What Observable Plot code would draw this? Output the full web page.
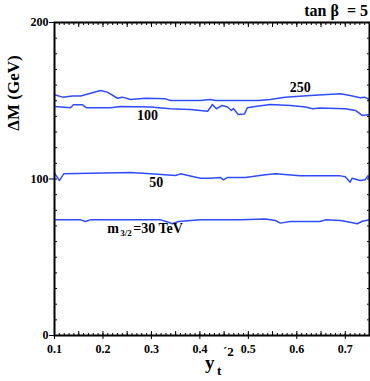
<!DOCTYPE html>
<html>
<head>
<meta charset="utf-8">
<script src="https://cdn.jsdelivr.net/npm/d3@7"></script>
<script src="https://cdn.jsdelivr.net/npm/@observablehq/plot@0.6"></script>
<style>
  html, body { margin: 0; padding: 0; background: #fff; }
  svg { display: block; }
  svg, svg text { font-family: "Liberation Serif", "Times New Roman", "DejaVu Serif", serif !important; font-weight: bold; }
</style>
</head>
<body>
<div id="chart"></div>
<script>
// Curves: [x = y_t'^2, y = ΔM (GeV)]
const series250 = [[0.100,153.8],[0.117,152.3],[0.137,153.0],[0.154,153.0],[0.195,156.5],[0.209,155.5],[0.230,151.6],[0.240,152.3],[0.257,150.8],[0.288,151.6],[0.329,151.2],[0.339,150.2],[0.401,150.2],[0.422,150.8],[0.432,150.2],[0.521,150.2],[0.545,150.8],[0.576,152.3],[0.628,153.4],[0.690,154.4],[0.710,153.4],[0.731,151.9],[0.739,152.3],[0.750,150.8]];
const series100 = [[0.100,146.3],[0.133,145.5],[0.139,147.4],[0.158,147.4],[0.166,145.5],[0.216,145.5],[0.236,146.3],[0.298,146.0],[0.339,144.9],[0.380,144.4],[0.416,143.3],[0.426,147.6],[0.434,144.9],[0.446,147.0],[0.457,146.0],[0.465,143.8],[0.469,145.0],[0.479,141.2],[0.492,141.6],[0.498,145.5],[0.514,146.3],[0.545,147.6],[0.587,147.0],[0.618,146.0],[0.632,144.9],[0.648,145.3],[0.700,144.9],[0.721,143.8],[0.735,140.6],[0.750,141.2]];
const series50 = [[0.100,103.7],[0.106,101.0],[0.110,99.0],[0.119,103.3],[0.174,103.7],[0.257,104.1],[0.298,103.3],[0.350,102.2],[0.360,103.3],[0.401,100.5],[0.422,100.5],[0.442,101.0],[0.449,99.5],[0.457,101.0],[0.494,101.0],[0.535,102.7],[0.556,103.3],[0.607,102.0],[0.690,102.0],[0.700,101.5],[0.710,98.0],[0.714,100.5],[0.731,99.0],[0.741,99.5],[0.747,102.2],[0.750,100.5]];
const series30 = [[0.100,73.9],[0.154,73.9],[0.164,72.8],[0.174,73.9],[0.319,73.9],[0.335,72.4],[0.343,71.4],[0.356,72.8],[0.401,73.9],[0.484,73.9],[0.535,74.5],[0.556,73.5],[0.566,71.8],[0.587,72.8],[0.648,72.8],[0.659,73.9],[0.690,73.5],[0.710,72.4],[0.725,71.4],[0.735,73.0],[0.750,73.9]];

// Curve labels
const labelTexts = ["250", "100", "50"];
const labelXs = [0.607, 0.292, 0.310];
const labelYs = [155.3, 137.4, 94.8];
const m32Pos = [0.209, 65.2];

// Ticks
const xTickLabels = [0.1, 0.2, 0.3, 0.4, 0.5, 0.6, 0.7];
const xMajorTicks = d3.range(10, 76, 5).map(d => d / 100);
const xMinorTicks = d3.range(10, 76, 1).map(d => d / 100);
const yTickLabels = [0, 100, 200];
const yMinorTicks = d3.range(0, 201, 10);

const curves = [series250, series100, series50, series30];
const blue = "#2f4dff";
const serif = "'Liberation Serif', 'Times New Roman', serif";

const noText = () => "";
const plot = Plot.plot({
  width: 370,
  height: 381,
  marginLeft: 54,
  marginRight: 1,
  marginTop: 22,
  marginBottom: 46,
  style: {fontFamily: serif, fontWeight: "bold", fontSize: "12px", color: "#000", background: "#fff"},
  x: {domain: [0.1, 0.75]},
  y: {domain: [0, 200]},
  marks: [
    ...curves.map(s => Plot.line(s, {x: d => d[0], y: d => d[1], stroke: blue, strokeWidth: 1.5, curve: "linear"})),
    Plot.text(labelTexts, {x: (d, i) => labelXs[i], y: (d, i) => labelYs[i], text: d => d, fontSize: 14, fontWeight: "bold", textAnchor: "middle", lineAnchor: "bottom"}),
    Plot.text(["m"], {x: () => m32Pos[0], y: () => m32Pos[1], text: d => d, fontSize: 14, textAnchor: "start", lineAnchor: "bottom"}),
    Plot.text(["3/2"], {x: () => m32Pos[0], y: () => m32Pos[1], text: d => d, fontSize: 9, dx: 13, dy: 3, textAnchor: "start", lineAnchor: "bottom"}),
    Plot.text(["=30 TeV"], {x: () => m32Pos[0], y: () => m32Pos[1], text: d => d, fontSize: 14, dx: 26, textAnchor: "start", lineAnchor: "bottom"}),
    // inward minor and major ticks
    Plot.axisX(xMinorTicks, {anchor: "bottom", tickSize: -2, tickFormat: noText, label: null, strokeWidth: 1}),
    Plot.axisX(xMinorTicks, {anchor: "top", tickSize: -2, tickFormat: noText, label: null, strokeWidth: 1}),
    Plot.axisX(xMajorTicks, {anchor: "bottom", tickSize: -4, tickFormat: noText, label: null, strokeWidth: 1}),
    Plot.axisX(xMajorTicks, {anchor: "top", tickSize: -4, tickFormat: noText, label: null, strokeWidth: 1}),
    Plot.axisX(xTickLabels, {anchor: "bottom", tickSize: 4, tickPadding: 5, tickFormat: d3.format(".1f"), label: null, fontSize: 12, fontWeight: "bold"}),
    Plot.axisY(yMinorTicks, {anchor: "left", tickSize: -3, tickFormat: noText, label: null}),
    Plot.axisY(yMinorTicks, {anchor: "right", tickSize: -3, tickFormat: noText, label: null}),
    Plot.axisY(yTickLabels, {anchor: "left", tickSize: 5, tickPadding: 1, tickFormat: d3.format("d"), label: null, fontSize: 12, fontWeight: "bold"}),
    Plot.frame({stroke: "#000", strokeWidth: 2})
  ]
});

const svg = d3.select(plot);
svg.attr("font-family", serif);
const addText = (x, y, size, str, anchor) => svg.append("text")
  .attr("x", x).attr("y", y)
  .attr("text-anchor", anchor || "start")
  .attr("font-family", serif)
  .attr("font-size", size).attr("font-weight", "bold").attr("fill", "#000")
  .text(str);
// y-axis title
svg.append("text")
  .attr("transform", "translate(19,93) rotate(-90)")
  .attr("text-anchor", "middle")
  .attr("font-family", serif)
  .attr("font-size", 17).attr("font-weight", "bold").attr("fill", "#000")
  .text("ΔM (GeV)");
// x-axis title
addText(205, 369, 19, "y");
addText(217, 375, 13, "t");
addText(223, 356, 13, "´2");
// top-right annotation
addText(368, 16, 16, "tan β  = 5", "end").style("white-space", "pre");

document.getElementById("chart").appendChild(plot);
</script>
</body>
</html>
